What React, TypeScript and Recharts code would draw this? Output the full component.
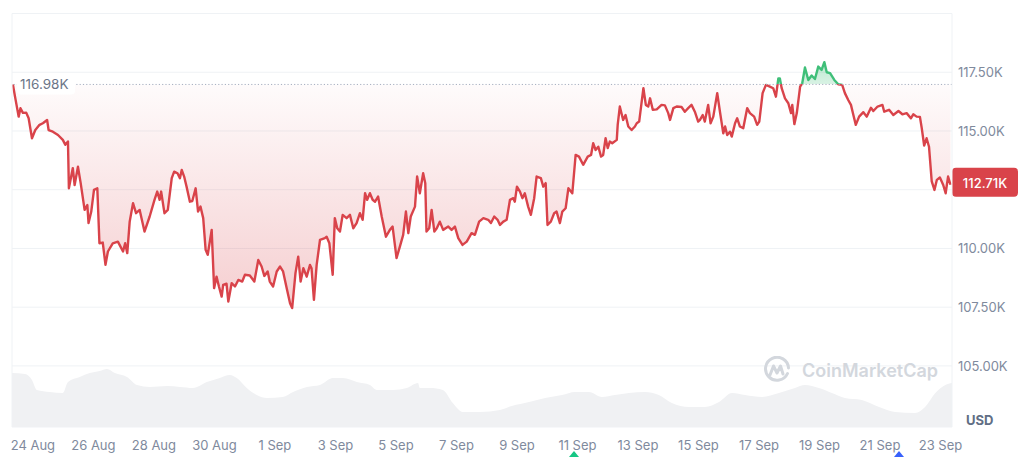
import { Area, CartesianGrid, ComposedChart, ReferenceLine, XAxis, YAxis } from "recharts";

// days counted from 24 Aug 00:00, price in thousands of USD
const priceDays = [
  -0.66, -0.59, -0.47, -0.41, -0.33, -0.22, -0.14, -0.03, 0.08, 0.22, 0.33, 0.47, 0.52, 0.66, 0.83, 0.99,
  1.07, 1.16, 1.19, 1.32, 1.38, 1.49, 1.58, 1.71, 1.8, 1.84, 1.93, 2.02, 2.13, 2.2, 2.31, 2.4, 2.48, 2.64,
  2.81, 2.98, 3.05, 3.12, 3.2, 3.31, 3.41, 3.53, 3.69, 3.86, 4.02, 4.11, 4.19, 4.24, 4.35, 4.46, 4.59, 4.67,
  4.78, 4.86, 4.92, 5.0, 5.08, 5.19, 5.27, 5.38, 5.46, 5.54, 5.63, 5.71, 5.78, 5.91, 5.99, 6.07, 6.15, 6.24,
  6.29, 6.4, 6.46, 6.57, 6.68, 6.79, 6.92, 7.01, 7.17, 7.32, 7.45, 7.56, 7.65, 7.76, 7.83, 7.94, 8.06, 8.17,
  8.27, 8.39, 8.5, 8.57, 8.68, 8.77, 8.85, 8.94, 9.05, 9.16, 9.21, 9.29, 9.38, 9.49, 9.65, 9.71, 9.8, 9.91,
  9.98, 10.06, 10.15, 10.24, 10.37, 10.48, 10.59, 10.7, 10.81, 10.9, 10.98, 11.05, 11.14, 11.23, 11.31,
  11.41, 11.53, 11.67, 11.8, 11.89, 12.02, 12.13, 12.24, 12.33, 12.41, 12.49, 12.63, 12.7, 12.79, 12.9,
  12.97, 13.01, 13.1, 13.18, 13.27, 13.35, 13.45, 13.56, 13.73, 13.84, 13.95, 14.06, 14.2, 14.34, 14.5,
  14.61, 14.75, 14.89, 15.05, 15.14, 15.25, 15.36, 15.44, 15.55, 15.66, 15.77, 15.88, 15.93, 16.0, 16.1,
  16.18, 16.26, 16.37, 16.46, 16.57, 16.65, 16.79, 16.87, 16.95, 17.01, 17.12, 17.23, 17.31, 17.42, 17.5,
  17.61, 17.7, 17.83, 17.94, 18.05, 18.19, 18.34, 18.45, 18.52, 18.6, 18.69, 18.78, 18.85, 18.93, 19.0,
  19.07, 19.15, 19.3, 19.33, 19.4, 19.51, 19.59, 19.68, 19.79, 19.9, 19.96, 20.04, 20.18, 20.26, 20.34,
  20.4, 20.49, 20.62, 20.78, 20.89, 21.0, 21.06, 21.17, 21.28, 21.44, 21.55, 21.66, 21.77, 21.88, 21.99,
  22.05, 22.14, 22.21, 22.32, 22.4, 22.49, 22.62, 22.71, 22.82, 22.88, 22.95, 23.04, 23.1, 23.21, 23.28,
  23.37, 23.48, 23.61, 23.7, 23.84, 23.94, 24.01, 24.12, 24.23, 24.36, 24.47, 24.56, 24.64, 24.69, 24.75,
  24.86, 24.97, 25.06, 25.1, 25.17, 25.25, 25.36, 25.43, 25.52, 25.63, 25.74, 25.85, 25.96, 26.07, 26.16,
  26.24, 26.35, 26.49, 26.62, 26.75, 26.84, 26.95, 27.04, 27.12, 27.2, 27.31, 27.45, 27.56, 27.7, 27.78,
  27.92, 28.08, 28.14, 28.3, 28.44, 28.61, 28.74, 28.88, 29.02, 29.1, 29.21, 29.32, 29.38, 29.46, 29.54,
  29.62, 29.71, 29.8, 29.88, 29.98, 30.09, 30.17, 30.25, 30.33,
];

const priceK = [
  116.98, 116.46, 115.61, 115.97, 115.77, 115.78, 115.54, 114.69, 115.04, 115.26, 115.33, 115.47, 115.04,
  114.97, 114.83, 114.62, 114.41, 114.55, 112.56, 113.42, 112.7, 113.48, 112.78, 111.64, 111.85, 111.08,
  111.57, 112.49, 112.56, 110.22, 110.25, 109.3, 109.87, 110.22, 110.29, 109.87, 110.22, 109.8, 111.14,
  111.93, 111.5, 111.64, 110.72, 111.36, 112.07, 112.42, 112.07, 112.42, 111.5, 111.64, 112.99, 113.27,
  113.2, 112.99, 113.34, 113.06, 112.63, 111.99, 112.02, 112.56, 111.57, 111.78, 111.29, 109.94, 109.73,
  110.79, 108.31, 108.8, 108.38, 107.95, 108.45, 108.5, 107.74, 108.52, 108.38, 108.66, 108.59, 108.88,
  108.85, 108.59, 109.51, 109.23, 108.83, 109.02, 108.59, 108.38, 109.02, 109.23, 109.02, 108.31, 107.67,
  107.46, 108.95, 109.65, 108.59, 109.16, 108.8, 109.3, 109.16, 107.81, 109.3, 110.36, 110.44, 110.5,
  110.22, 108.88, 111.29, 110.86, 110.72, 111.43, 111.29, 111.43, 110.86, 111.08, 111.5, 111.22, 112.35,
  112.07, 112.35, 112.07, 111.99, 112.21, 111.36, 110.5, 110.79, 110.93, 109.59, 110.08, 110.58, 111.57,
  110.65, 111.36, 111.78, 113.06, 112.35, 113.2, 112.78, 110.72, 110.86, 111.64, 110.72, 110.86, 111.14,
  110.79, 110.93, 110.79, 110.93, 110.44, 110.15, 110.29, 110.65, 110.58, 111.14, 111.29, 111.22, 111.08,
  111.36, 111.22, 111.0, 111.14, 111.22, 112.07, 112.14, 111.99, 112.63, 112.42, 112.14, 112.35, 111.78,
  111.43, 112.14, 113.06, 112.99, 112.63, 112.78, 111.0, 111.14, 111.5, 111.57, 111.08, 111.57, 111.71,
  112.56, 112.35, 113.98, 113.91, 113.56, 113.91, 113.98, 114.48, 114.19, 114.33, 113.91, 113.98, 114.69,
  114.27, 114.55, 114.48, 114.62, 115.26, 116.04, 115.47, 115.68, 115.19, 115.04, 115.19, 115.33, 115.4,
  116.82, 116.11, 116.04, 116.39, 115.9, 115.92, 116.11, 116.09, 115.76, 115.47, 115.97, 116.04, 116.02,
  115.82, 115.97, 116.11, 115.82, 115.4, 115.47, 115.68, 115.4, 116.11, 115.33, 115.61, 116.61, 115.82,
  114.9, 115.19, 114.83, 114.97, 114.76, 115.33, 115.54, 115.19, 115.12, 115.97, 115.76, 115.61, 115.26,
  115.4, 116.61, 116.96, 116.89, 116.82, 116.46, 117.24, 117.24, 116.82, 116.39, 116.18, 115.76, 116.11,
  115.29, 115.76, 116.89, 117.03, 117.7, 117.17, 117.36, 117.21, 117.74, 117.6, 117.93, 117.5, 117.46,
  117.17, 116.99, 116.96, 116.61, 116.32, 116.11, 115.68, 115.26, 115.61, 115.8, 115.61, 115.99, 115.85,
  116.04, 116.11, 115.82, 115.9, 115.68, 115.85, 115.71, 115.76, 115.54, 115.71, 115.61, 115.6, 115.12,
  114.38, 114.69, 114.33, 112.85, 112.49, 112.92, 113.02, 112.7, 112.35, 113.06, 112.71,
];

const volumeDays = [
  -0.69, -0.26, -0.03, 0.13, 0.56, 0.99, 1.16, 1.55, 1.88, 2.21, 2.45, 2.71, 3.11, 3.44, 3.87, 4.43, 4.86,
  5.29, 5.75, 6.18, 6.51, 6.74, 7.07, 7.4, 7.74, 8.26, 8.6, 9.06, 9.49, 9.92, 10.25, 10.71, 11.14, 11.37,
  11.9, 12.36, 12.73, 12.79, 13.12, 13.55, 13.88, 14.21, 14.78, 15.44, 15.83, 16.4, 16.93, 17.49, 17.92,
  18.38, 18.81, 19.24, 19.7, 20.23, 20.69, 21.12, 21.69, 22.21, 22.68, 23.11, 23.54, 24.1, 24.66, 25.19,
  25.52, 25.98, 26.41, 26.84, 27.4, 27.97, 28.5, 29.16, 29.49, 29.83, 30.16, 30.38,
];

// 24h volume, billions of USD
const volumeB = [
  54, 53, 47, 37, 35, 34, 45, 50, 54, 56, 58, 54, 50, 42, 40, 41, 40, 39, 45, 49, 52, 49, 39, 32, 29, 30,
  35, 40, 42, 49, 49, 45, 42, 37, 37, 39, 44, 39, 39, 37, 24, 15, 15, 17, 21, 25, 29, 32, 35, 35, 30, 32,
  34, 35, 32, 24, 20, 20, 25, 34, 32, 30, 34, 39, 42, 39, 34, 29, 27, 20, 15, 14, 20, 34, 42, 44,
];

const tickDays = [0, 2, 4, 6, 8, 10, 12, 14, 16, 18, 20, 22, 24, 26, 28, 30];
const tickLabels = [
  "24 Aug", "26 Aug", "28 Aug", "30 Aug", "1 Sep", "3 Sep", "5 Sep", "7 Sep",
  "9 Sep", "11 Sep", "13 Sep", "15 Sep", "17 Sep", "19 Sep", "21 Sep", "23 Sep",
];
const priceTicks = [105, 107.5, 110, 112.5, 115, 117.5, 120];
const hiddenPriceLabels = [112.5, 120];

const OPEN_PRICE = 116.98;
const LAST_PRICE = 112.71;

const RED = "#d9434a";
const GREEN = "#3fbf79";
const GRID = "#eff2f5";
const LABEL = "#808a9d";

const priceData = priceDays.map((t, i) => ({ t, price: priceK[i] }));
const volumeData = volumeDays.map((t, i) => ({ t, volume: volumeB[i] }));

const maxPrice = Math.max(...priceK);
const minPrice = Math.min(...priceK);
const splitOffset = (maxPrice - OPEN_PRICE) / (maxPrice - minPrice);

const XTick = ({ x, y, payload }: any) => (
  <text x={x} y={y + 22.5} textAnchor="middle" fill={LABEL} fontSize={13} fontFamily="Inter">
    {tickLabels[tickDays.indexOf(payload.value)]}
  </text>
);

const YTick = ({ x, y, payload }: any) => {
  if (hiddenPriceLabels.includes(payload.value)) return <g />;
  return (
    <text x={x} y={y + 5} textAnchor="start" fill={LABEL} fontSize={13} fontFamily="Inter">
      {`${payload.value.toFixed(2)}K`}
    </text>
  );
};

const OpenLabel = ({ viewBox }: any) => (
  <g>
    <rect x={viewBox.x + 5} y={viewBox.y - 10} width={58} height={20} rx={4} fill="#ffffff" />
    <text x={viewBox.x + 8} y={viewBox.y + 5} fill="#6b7588" fontSize={13.5} fontFamily="Inter">
      {`${OPEN_PRICE.toFixed(2)}K`}
    </text>
  </g>
);

const LastTag = ({ viewBox }: any) => {
  const x = viewBox.x + viewBox.width;
  return (
    <g>
      <rect x={x} y={viewBox.y - 17} width={66} height={29} rx={4} fill={RED} />
      <text
        x={x + 33}
        y={viewBox.y + 3}
        textAnchor="middle"
        fill="#ffffff"
        fontSize={13}
        fontWeight={500}
        fontFamily="Inter"
      >
        {`${LAST_PRICE.toFixed(2)}K`}
      </text>
    </g>
  );
};

const Watermark = () => (
  <div
    style={{
      position: "absolute",
      left: 763,
      top: 356,
      display: "flex",
      alignItems: "center",
      gap: 11,
      color: "#d3d7dd",
      fontSize: 18,
      fontWeight: 600,
      fontFamily: "Inter",
      pointerEvents: "none",
    }}
  >
    <svg width={28} height={28} viewBox="0 0 28 28">
      <path
        d="M24.5 17.5 A11.5 11.5 0 1 1 25.5 12"
        fill="none"
        stroke="#d3d7dd"
        strokeWidth={3}
        strokeLinecap="round"
      />
      <path
        d="M7 19 L10.5 10 L14 17 L17.5 10 L20 18"
        fill="none"
        stroke="#d3d7dd"
        strokeWidth={3}
        strokeLinejoin="round"
        strokeLinecap="round"
      />
    </svg>
    <span>CoinMarketCap</span>
  </div>
);

const App = () => (
  <div
    style={{
      position: "relative",
      width: 1024,
      height: 457,
      overflow: "hidden",
      background: "#ffffff",
      fontFamily: "Inter, sans-serif",
    }}
  >
    <style>{"body{margin:0}"}</style>
    <ComposedChart width={1024} height={457} margin={{ top: 13.5, right: 0, bottom: 0, left: 12 }}>
      <defs>
        <linearGradient id="strokeSplit" x1="0" y1="0" x2="0" y2="1">
          <stop offset={splitOffset} stopColor={GREEN} />
          <stop offset={splitOffset} stopColor={RED} />
        </linearGradient>
        <linearGradient id="fillSplit" x1="0" y1="0" x2="0" y2="1">
          <stop offset={0} stopColor={GREEN} stopOpacity={0.35} />
          <stop offset={splitOffset} stopColor={GREEN} stopOpacity={0.2} />
          <stop offset={splitOffset} stopColor={RED} stopOpacity={0.02} />
          <stop offset={1} stopColor={RED} stopOpacity={0.26} />
        </linearGradient>
      </defs>
      <CartesianGrid vertical={false} stroke={GRID} />
      <XAxis
        type="number"
        dataKey="t"
        domain={[-0.69, 30.38]}
        allowDataOverflow
        ticks={tickDays}
        tick={<XTick />}
        axisLine={false}
        tickLine={false}
        tickSize={0}
        tickMargin={0}
        height={30}
      />
      <YAxis
        orientation="right"
        domain={[102.4, 120]}
        allowDataOverflow
        ticks={priceTicks}
        tick={<YTick />}
        axisLine={{ stroke: GRID }}
        tickLine={false}
        tickSize={0}
        tickMargin={6}
        width={72}
      />
      <YAxis yAxisId="vol" hide domain={[0, 413.5]} />
      <ReferenceLine x={-0.69} stroke={GRID} />
      <Area
        yAxisId="vol"
        data={volumeData}
        dataKey="volume"
        type="monotone"
        stroke="none"
        fill="#f0f1f3"
        fillOpacity={1}
        dot={false}
        activeDot={false}
        isAnimationActive={false}
      />
      <Area
        data={priceData}
        dataKey="price"
        type="linear"
        baseValue={OPEN_PRICE}
        stroke="url(#strokeSplit)"
        strokeWidth={2.4}
        strokeLinejoin="round"
        fill="url(#fillSplit)"
        fillOpacity={1}
        dot={false}
        activeDot={false}
        isAnimationActive={false}
      />
      <ReferenceLine
        y={OPEN_PRICE}
        stroke="#a6afc0"
        strokeDasharray="1.2 2.1"
        label={<OpenLabel />}
      />
      <ReferenceLine y={LAST_PRICE} stroke="none" label={<LastTag />} />
    </ComposedChart>
    <div
      style={{
        position: "absolute",
        left: 966,
        top: 412,
        color: "#616e85",
        fontSize: 13,
        fontWeight: 700,
        fontFamily: "Inter",
      }}
    >
      USD
    </div>
    <Watermark />
    <svg style={{ position: "absolute", left: 0, top: 0 }} width={1024} height={457}>
      <polygon points="569,457 574,451 579,457" fill="#16c784" />
      <polygon points="894,457 899,451 904,457" fill="#3861fb" />
    </svg>
  </div>
);

export default App;
